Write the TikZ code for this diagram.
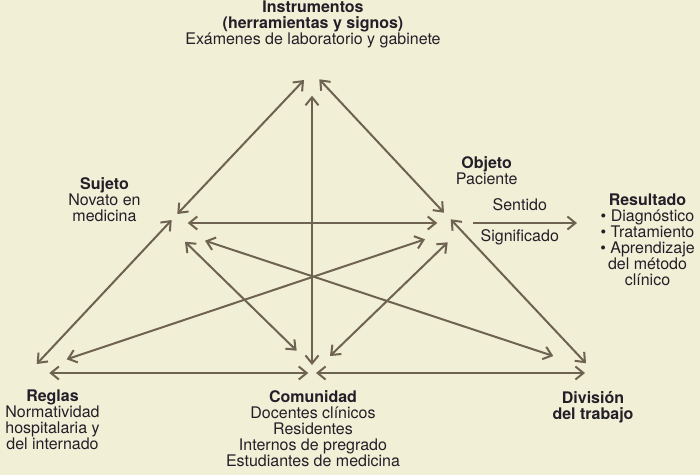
\documentclass[tikz,border=0pt]{standalone}
\usepackage{fontspec}
\setmainfont{TeX Gyre Heros}
\usepackage{xcolor}
\usepackage{tikz}
\usetikzlibrary{arrows.meta}
\definecolor{fondo}{RGB}{242,239,215}
\definecolor{flecha}{RGB}{110,98,80}
\definecolor{tinta}{RGB}{35,31,40}

\begin{document}
\begin{tikzpicture}[x=1pt, y=-1pt,
	texto/.style={font=\fontsize{16}{16}\selectfont, text=tinta, align=center, inner sep=0pt},
	doble/.style={draw=flecha, line width=2pt, {Straight Barb[length=8pt,width=13pt]}-{Straight Barb[length=8pt,width=13pt]}},
	simple/.style={draw=flecha, line width=2pt, -{Straight Barb[length=8pt,width=13pt]}}]
			\fill[fondo] (0,0) rectangle (700,475);
			\useasboundingbox (0,0) rectangle (700,475);
			% textos de los vertices
			\node[texto, anchor=north] (instr) at (313,1.1) {\textbf{Instrumentos}\\ \textbf{(herramientas y signos)}\\ Exámenes de laboratorio y gabinete};
			\node[texto, anchor=north] (sujeto) at (104.5,177.7) {\textbf{Sujeto}\\ Novato en\\ medicina};
			\node[texto, anchor=north] (objeto) at (486.7,156.7) {\textbf{Objeto}\\ Paciente};
			\node[texto, anchor=north] (result) at (647.5,193.4) {\textbf{Resultado}\\ \textbullet\ Diagnóstico\\ \textbullet\ Tratamiento\\ \textbullet\ Aprendizaje\\ del método\\ clínico};
			\node[texto, anchor=north] (reglas) at (52.5,390) {\textbf{Reglas}\\ Normatividad\\ hospitalaria y\\ del internado};
			\node[texto, anchor=north] (comunidad) at (313,390.7) {\textbf{Comunidad}\\ Docentes clínicos\\ Residentes\\ Internos de pregrado\\ Estudiantes de medicina};
			\node[texto, anchor=north] (division) at (593,391) {\textbf{División}\\ \textbf{del trabajo}};
			% puntas de las flechas
			\foreach \n/\x/\y in {i-s/304/80, s-i/177.3/214, s-r/171.7/220, r-s/36.7/364,
				i-o/319.3/79.3, o-i/444/212.7, o-d/450.7/219.3, d-o/586/363.3,
				i-c/312/95.7, c-i/312/365, s-o/187.7/223, o-s/437.3/223,
				r-c/49.3/373, c-r/308.3/373, c-d/316/373, d-c/585/373,
				s-c/185/241.7, c-s/296.7/350.7, s-d/205/240.7, d-s/553.3/356,
				r-o/66.7/359.3, o-r/425/239.3, c-o/330/356, o-c/447.7/242.3,
				o-res/473/223, res-o/577/223} {
				\coordinate (\n) at (\x,\y);
			}
			\foreach \a/\b in {i-s/s-i, s-r/r-s, i-o/o-i, o-d/d-o, i-c/c-i, s-o/o-s,
				r-c/c-r, c-d/d-c, s-c/c-s, s-d/d-s, r-o/o-r, c-o/o-c} {
				\draw[doble] (\a) -- (\b);
			}
			\draw[simple] (o-res) -- (res-o)
				node[texto, pos=0.45, above=11.3pt] (sentido) {Sentido}
				node[texto, pos=0.45, below=6pt] (signif) {Significado};
\end{tikzpicture}
\end{document}
